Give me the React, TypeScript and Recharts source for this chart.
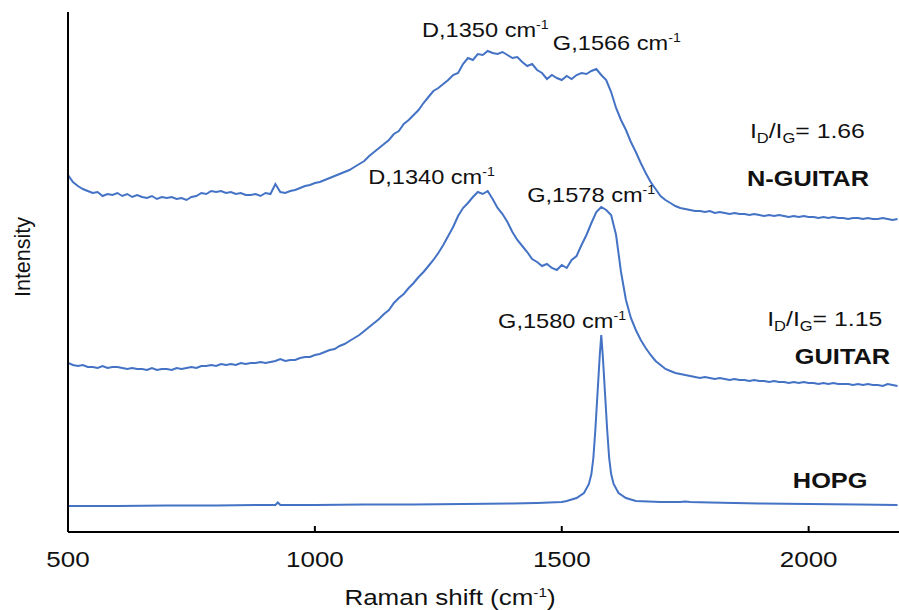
import React from "react";
import { LineChart, Line, XAxis, YAxis, ReferenceDot } from "recharts";

// Raman shift grid (cm-1) shared by the two GUITAR spectra
const ramanShift = [
  500, 510, 520, 530, 540, 550, 560, 570, 580, 590,
  600, 610, 620, 630, 640, 650, 660, 670, 680, 690,
  700, 710, 720, 730, 740, 750, 760, 770, 780, 790,
  800, 810, 820, 830, 840, 850, 860, 870, 880, 890,
  900, 910, 920, 930, 940, 950, 960, 970, 980, 990,
  1000, 1010, 1020, 1030, 1040, 1050, 1060, 1070, 1080, 1090,
  1100, 1110, 1120, 1130, 1140, 1150, 1160, 1170, 1180, 1190,
  1200, 1210, 1220, 1230, 1240, 1250, 1260, 1270, 1280, 1290,
  1300, 1310, 1320, 1330, 1340, 1350, 1360, 1370, 1380, 1390,
  1400, 1410, 1420, 1430, 1440, 1450, 1460, 1470, 1480, 1490,
  1500, 1510, 1520, 1530, 1540, 1550, 1560, 1570, 1580, 1590,
  1600, 1610, 1620, 1630, 1640, 1650, 1660, 1670, 1680, 1690,
  1700, 1710, 1720, 1730, 1740, 1750, 1760, 1770, 1780, 1790,
  1800, 1810, 1820, 1830, 1840, 1850, 1860, 1870, 1880, 1890,
  1900, 1910, 1920, 1930, 1940, 1950, 1960, 1970, 1980, 1990,
  2000, 2010, 2020, 2030, 2040, 2050, 2060, 2070, 2080, 2090,
  2100, 2110, 2120, 2130, 2140, 2150, 2160, 2170, 2180,
];

// intensity (a.u., stacked offsets as in the figure)
const nGuitar = [
  357, 350, 346, 343, 341, 339, 340, 336, 338, 337,
  339, 336, 338, 335, 337, 335, 334, 336, 333, 335,
  334, 335, 333, 334, 332, 335, 336, 339, 338, 341,
  340, 341, 339, 340, 338, 339, 337, 337, 338, 336,
  339, 338, 348, 340, 339, 341, 342, 344, 346, 347,
  349, 350, 352, 354, 356, 358, 360, 362, 365, 368,
  371, 376, 380, 384, 388, 392, 398, 401, 408, 412,
  417, 422, 429, 435, 441, 444, 448, 452, 457, 459,
  468, 474, 472, 478, 477, 481, 479, 478, 480, 477,
  474, 475, 470, 466, 468, 462, 459, 453, 457, 454,
  452, 456, 453, 457, 459, 458, 461, 463, 457, 452,
  440, 424, 412, 402, 390, 380, 369, 359, 350, 343,
  336, 332, 329, 326, 324, 323, 322, 321, 321, 320,
  321, 319, 320, 319, 318, 319, 318, 318, 317, 318,
  317, 316, 317, 316, 317, 316, 315, 316, 315, 316,
  315, 315, 314, 315, 314, 315, 314, 314, 313, 314,
  314, 313, 314, 313, 313, 314, 313, 312, 313,
];

const guitar = [
  169, 167, 166, 167, 165, 165, 164, 166, 164, 165,
  165, 164, 163, 164, 163, 163, 162, 164, 162, 163,
  163, 162, 164, 163, 164, 165, 164, 166, 166, 167,
  166, 168, 167, 168, 167, 169, 168, 169, 169, 170,
  169, 170, 171, 173, 171, 172, 172, 174, 175, 175,
  177, 178, 180, 182, 183, 186, 188, 191, 194, 197,
  201, 205, 209, 213, 218, 222, 229, 234, 238, 244,
  249, 255, 260, 266, 272, 279, 287, 296, 305, 316,
  324, 329, 335, 340, 338, 341, 333, 324, 318, 310,
  300, 292, 286, 280, 273, 270, 266, 268, 264, 262,
  267, 264, 272, 276, 287, 297, 309, 320, 325, 322,
  317, 297, 260, 232, 214, 202, 192, 184, 177, 171,
  167, 163, 161, 159, 158, 157, 156, 155, 154, 155,
  154, 153, 154, 153, 152, 153, 152, 152, 151, 152,
  151, 151, 150, 151, 150, 150, 149, 150, 149, 150,
  149, 149, 148, 149, 148, 149, 148, 148, 148, 147,
  148, 147, 148, 147, 147, 146, 148, 147, 146,
];

const hopgShift = [
  500, 600, 700, 800, 900, 920, 925, 930, 1000, 1100, 1200, 1300, 1400,
  1450, 1500, 1510, 1530, 1545, 1555, 1560, 1564, 1568, 1571, 1574, 1577,
  1580, 1583, 1586, 1589, 1592, 1596, 1600, 1605, 1615, 1630, 1650,
  1700, 1740, 1750, 1760, 1800, 1900, 2000, 2100, 2180,
];
const hopg = [
  26, 26, 26.5, 26.5, 27, 27, 29.5, 27, 27, 27.5, 27.5, 28, 28.5,
  29, 30, 31, 34, 39, 48, 58, 74, 102, 127, 152, 177,
  197, 177, 152, 127, 102, 74, 58, 48, 39, 34, 31,
  30, 30, 30.5, 30, 29.5, 28.5, 28, 27.5, 27,
];

const xTicks = [500, 1000, 1500, 2000];
const peakLabels = ["D,1350", "G,1566", "D,1340", "G,1578", "G,1580"];
const ratios = ["1.66", "1.15"];
const sampleNames = ["N-GUITAR", "GUITAR", "HOPG"];

const FONT = '"Liberation Sans", Arial, Helvetica, sans-serif';
const SX = 1.18; // the original figure is stretched sideways
const BLUE = "#4472C4";
const INK = "#111";

const toSeries = (xs: number[], ys: number[]) => xs.map((x, i) => ({ x, y: ys[i] }));

function SText({ x, y, size, bold, anchor = "start", children }: any) {
  return (
    <g transform={`translate(${x},${y}) scale(${SX},1)`}>
      <text x={0} y={0} fontSize={size} fontWeight={bold ? 700 : 400} fontFamily={FONT} fill={INK} textAnchor={anchor}>
        {children}
      </text>
    </g>
  );
}

const peakLabel = (text: string) => (props: any) => (
  <SText x={props.viewBox.x} y={props.viewBox.y} size={20}>
    {text} cm<tspan dy={-8} fontSize={12}>-1</tspan>
  </SText>
);

const ratioLabel = (value: string) => (props: any) => (
  <SText x={props.viewBox.x} y={props.viewBox.y} size={21}>
    I<tspan dy={5} fontSize={14}>D</tspan>
    <tspan dy={-5}>/I</tspan>
    <tspan dy={5} fontSize={14}>G</tspan>
    <tspan dy={-5}>= {value}</tspan>
  </SText>
);

const nameLabel = (name: string) => (props: any) => (
  <SText x={props.viewBox.x} y={props.viewBox.y} size={21.5} bold>
    {name}
  </SText>
);

const XTick = (props: any) => (
  <SText x={props.x} y={props.y + 40.5} size={22} anchor="middle">
    {props.payload.value}
  </SText>
);

const XLabel = (props: any) => {
  const vb = props.viewBox;
  return (
    <SText x={vb.x + 382} y={vb.y + 73} size={22} anchor="middle">
      Raman shift (cm<tspan dy={-8} fontSize={13}>-1</tspan>
      <tspan dy={8}>)</tspan>
    </SText>
  );
};

const YLabel = (props: any) => {
  const vb = props.viewBox;
  const cx = vb.x + 23;
  const cy = vb.y + 245;
  return (
    <text
      x={cx}
      y={cy}
      transform={`rotate(-90 ${cx} ${cy})`}
      textAnchor="middle"
      dominantBaseline="central"
      fontSize={21.5}
      fontFamily={FONT}
      fill={INK}
    >
      Intensity
    </text>
  );
};

export default function App() {
  return (
    <div style={{ position: "absolute", left: 0, top: 0, background: "#fff" }}>
      <LineChart width={899} height={610} margin={{ top: 12, right: 0, bottom: 0, left: 0 }}>
        <XAxis
          type="number"
          dataKey="x"
          domain={[500, 2183]}
          ticks={xTicks}
          allowDataOverflow
          height={78}
          tickSize={-6}
          tickMargin={0}
          tick={<XTick />}
          axisLine={{ stroke: "#000", strokeWidth: 2 }}
          tickLine={{ stroke: "#000", strokeWidth: 2 }}
          label={XLabel}
        />
        <YAxis
          type="number"
          domain={[0, 520]}
          width={68}
          tick={false}
          tickLine={false}
          axisLine={{ stroke: "#000", strokeWidth: 2 }}
          allowDataOverflow
          label={YLabel}
        />
        <Line data={toSeries(ramanShift, nGuitar)} dataKey="y" type="linear" stroke={BLUE} strokeWidth={2} dot={false} isAnimationActive={false} />
        <Line data={toSeries(ramanShift, guitar)} dataKey="y" type="linear" stroke={BLUE} strokeWidth={2} dot={false} isAnimationActive={false} />
        <Line data={toSeries(hopgShift, hopg)} dataKey="y" type="linear" stroke={BLUE} strokeWidth={2} dot={false} isAnimationActive={false} />

        <ReferenceDot x={1217} y={495} r={0} label={peakLabel(peakLabels[0])} />
        <ReferenceDot x={1482} y={482} r={0} label={peakLabel(peakLabels[1])} />
        <ReferenceDot x={1108} y={348} r={0} label={peakLabel(peakLabels[2])} />
        <ReferenceDot x={1430} y={330} r={0} label={peakLabel(peakLabels[3])} />
        <ReferenceDot x={1371} y={204} r={0} label={peakLabel(peakLabels[4])} />

        <ReferenceDot x={1881} y={394} r={0} label={ratioLabel(ratios[0])} />
        <ReferenceDot x={1916} y={206} r={0} label={ratioLabel(ratios[1])} />

        <ReferenceDot x={1875} y={346} r={0} label={nameLabel(sampleNames[0])} />
        <ReferenceDot x={1972} y={168} r={0} label={nameLabel(sampleNames[1])} />
        <ReferenceDot x={1968} y={44} r={0} label={nameLabel(sampleNames[2])} />
      </LineChart>
    </div>
  );
}
